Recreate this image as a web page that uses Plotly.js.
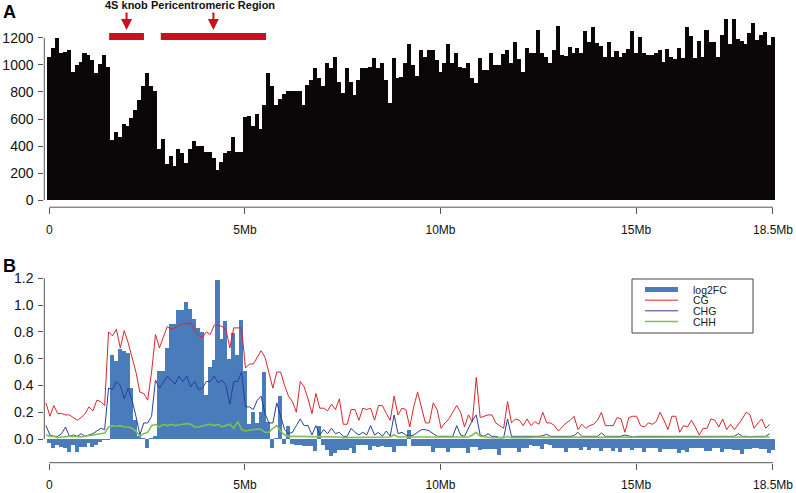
<!DOCTYPE html>
<html>
<head>
<meta charset="utf-8">
<script src="https://cdn.plot.ly/plotly-3.0.1.min.js"></script>
<style>
  html, body { margin: 0; padding: 0; background: #ffffff; }
  #chart { width: 796px; height: 493px; }
</style>
</head>
<body>
<div id="chart"></div>
<script>
// ---------- DATA (100 kb bins along the chromosome, in Mb) ----------
const BIN_MB = 0.1;

// Panel A: per-bin counts
const readDepth = [
  1057,1123,1198,1086,1098,1111,950,1000,1020,1086,1074,1037,938,1005,1074,988,
  444,501,464,563,548,605,667,741,844,938,844,810,
  375,449,267,326,254,378,351,272,378,440,402,402,353,353,309,222,284,346,363,469,358,358,
  615,625,545,640,525,705,
  938,844,704,748,785,807,807,807,807,704,852,889,980,907,844,1012,980,1062,877,796,
  980,877,778,889,980,980,988,1049,975,1017,889,721,1049,901,914,1012,1156,1000,918,1111,
  1062,1111,1111,1037,951,1012,1156,1012,1086,988,975,1017,901,869,1049,963,963,1091,1000,1000,
  1079,1111,1012,1168,1042,951,1123,
  1086,1086,1259,1086,1062,1017,1111,1289,1074,1067,1136,1086,1123,1086,1252,1173,1279,1160,1141,1057,
  1168,1057,1106,1057,1086,1116,1254,1086,1210,1086,1074,1074,1086,1111,1025,1116,1062,1042,1123,1049,
  1279,1215,1049,1180,1062,1259,1173,1173,1057,1222,1340,1156,1340,1190,1180,1156,1240,1314,1185,1222,
  1247,1148,1205
];

// Panel B: log2 fold change per bin
const log2FC = [
  -0.03,-0.07,-0.045,-0.06,-0.07,-0.095,-0.045,-0.095,-0.06,-0.06,-0.03,-0.06,-0.045,-0.02,-0.01,-0.01,
  0.63,0.58,0.67,0.66,0.64,0.38,0.14,0.02,0.01,-0.07,0.01,0.02,
  0.51,0.51,0.68,0.86,0.86,0.96,0.96,1.02,0.97,0.90,
  0.83,0.80,0.33,0.54,0.59,1.19,0.75,0.88,0.60,0.79,
  0.63,0.89,0.51,0.11,0.20,0.12,0.20,0.50,0.13,-0.07,
  0.01,0.32,
  -0.04,0.10,-0.04,-0.045,-0.045,-0.05,-0.05,-0.05,-0.09,0.10,
  -0.045,-0.08,-0.13,-0.105,-0.08,-0.08,-0.08,-0.07,-0.107,-0.045,
  -0.045,-0.045,-0.08,-0.05,-0.06,-0.05,-0.06,-0.06,-0.095,-0.05,
  -0.05,-0.05,0.07,-0.05,-0.05,-0.05,-0.05,-0.05,-0.10,-0.07,
  -0.07,-0.07,-0.10,-0.07,-0.07,-0.07,-0.07,-0.107,-0.057,-0.057,
  -0.082,-0.075,-0.075,-0.075,-0.075,-0.12,-0.07,-0.07,-0.07,-0.07,
  -0.095,-0.07,-0.07,-0.045,-0.05,-0.05,-0.075,-0.04,-0.045,-0.07,
  -0.07,-0.07,-0.095,-0.065,-0.065,-0.065,-0.082,-0.057,-0.082,-0.065,
  -0.065,-0.09,-0.07,-0.07,-0.09,-0.07,-0.095,-0.07,-0.07,-0.082,
  -0.065,-0.065,-0.10,-0.07,-0.07,-0.07,-0.10,-0.075,-0.075,-0.075,
  -0.075,-0.107,-0.082,-0.095,-0.07,-0.07,-0.07,-0.07,-0.09,-0.09,
  -0.07,-0.07,-0.10,-0.075,-0.075,-0.082,-0.082,-0.115,-0.075,-0.075,
  -0.065,-0.065,-0.075,-0.075,-0.107,-0.082
];

// Panel B: methylation levels per bin
const mCG = [
  0.27,0.17,0.25,0.19,0.19,0.18,0.18,0.16,0.14,0.16,
  0.19,0.24,0.21,0.29,0.28,0.25,0.80,0.77,0.82,0.68,
  0.81,0.72,0.60,0.50,0.35,0.34,0.29,0.50,0.78,0.68,
  0.76,0.84,0.82,0.83,0.85,0.86,0.86,0.87,0.81,0.77,
  0.76,0.80,0.78,0.85,0.85,0.84,0.82,0.68,0.83,0.83,
  0.83,0.53,0.56,0.56,0.61,0.66,0.61,0.50,0.38,0.50,
  0.50,0.40,0.32,0.28,0.20,0.43,0.39,0.30,0.19,0.34,
  0.23,0.23,0.21,0.26,0.22,0.30,0.11,0.11,0.22,0.22,
  0.14,0.23,0.22,0.23,0.14,0.25,0.25,0.19,0.14,0.32,
  0.18,0.23,0.22,0.09,0.24,0.35,0.24,0.12,0.12,0.27,
  0.22,0.08,0.12,0.15,0.20,0.25,0.20,0.09,0.18,0.13,
  0.46,0.16,0.17,0.18,0.18,0.12,0.10,0.08,0.28,0.12,
  0.15,
  0.14,0.10,0.15,0.10,0.13,0.11,0.20,0.12,0.12,0.10,
  0.06,0.09,0.12,0.14,0.17,0.07,0.11,0.08,0.10,0.11,
  0.14,0.20,0.10,0.10,0.10,0.16,0.15,0.05,0.16,0.17,
  0.17,0.10,0.09,0.12,0.11,0.13,0.20,0.14,0.07,0.17,
  0.17,0.05,0.10,0.09,0.14,0.09,0.03,0.08,0.08,0.15,
  0.14,0.09,0.15,0.07,0.11,0.07,0.11,0.15,0.20,0.18,
  0.08,0.12,0.15,0.08,0.11
];

const mCHG = [
  0.10,0.03,0.02,0.02,0.04,0.09,0.02,0.03,0.02,0.04,
  0.02,0.03,0.04,0.06,0.08,0.07,0.38,0.37,0.43,0.40,
  0.30,0.38,0.29,0.17,0.03,0.12,0.12,0.17,0.44,0.38,
  0.43,0.47,0.44,0.41,0.47,0.43,0.47,0.39,0.43,0.37,
  0.38,0.43,0.43,0.47,0.42,0.44,0.40,0.26,0.43,0.43,
  0.50,0.24,0.24,0.22,0.29,0.32,0.19,0.12,0.12,0.27,
  0.17,0.07,0.04,0.05,0.10,0.15,0.10,0.10,0.03,0.10,
  0.03,0.07,0.04,0.08,0.04,0.05,0.02,0.02,0.08,0.05,
  0.03,0.05,0.03,0.10,0.03,0.05,0.02,0.06,0.02,0.18,
  0.04,0.05,0.03,0.02,0.03,0.05,0.07,0.07,0.06,0.04,
  0.02,0.02,0.02,0.02,0.02,0.10,0.03,0.02,0.08,0.14,
  0.18,0.03,0.02,0.04,0.02,0.02,0.01,0.01,0.15,0.02,
  0.02,
  0.02,0.02,0.02,0.015,0.02,0.02,0.025,0.035,0.02,0.02,
  0.015,0.02,0.02,0.02,0.025,0.05,0.02,0.02,0.015,0.02,
  0.02,0.045,0.02,0.02,0.02,0.02,0.02,0.03,0.02,0.015,
  0.02,0.02,0.02,0.015,0.02,0.02,0.02,0.02,0.015,0.02,
  0.02,0.02,0.015,0.02,0.02,0.02,0.02,0.015,0.02,0.02,
  0.02,0.02,0.02,0.02,0.02,0.02,0.04,0.02,0.02,0.015,
  0.02,0.02,0.02,0.02,0.04
];

const mCHH = [
  0.03,0.02,0.02,0.01,0.015,0.02,0.02,0.02,0.015,0.015,
  0.02,0.025,0.03,0.04,0.045,0.045,
  0.09,0.10,0.095,0.10,0.09,0.09,0.08,0.06,0.02,0.04,
  0.05,0.10,0.11,0.09,0.11,0.10,0.11,0.10,0.105,0.11,
  0.115,0.11,0.09,0.09,0.10,0.105,0.11,0.10,0.11,0.09,
  0.10,0.11,0.08,0.13,0.07,0.06,0.065,0.07,0.075,0.07,
  0.05,0.05,0.08,0.10,
  0.06,0.03,0.02,0.02,0.02,0.02,0.015,0.015,0.015,0.015,
  0.015,0.015,0.015,0.015,0.015,0.015,0.01,0.01,0.015,0.015,
  0.015,0.015,0.015,0.015,0.015,0.015,0.015,0.015,0.015,0.03,
  0.015,0.015,0.015,0.01,0.015,0.015,0.015,0.015,0.015,0.015,
  0.01,0.01,0.01,0.01,0.01,0.015,0.01,0.01,0.015,0.03,
  0.05,0.02,0.015,0.015,0.01,0.01,0.01,0.01,0.02,0.01,
  0.01,
  0.012,0.012,0.01,0.012,0.012,0.015,0.012,0.012,0.01,0.012,
  0.012,0.012,0.015,0.012,0.012,0.015,0.012,0.01,0.012,0.012,
  0.012,0.015,0.012,0.012,0.01,0.012,0.012,0.012,0.015,0.012,
  0.012,0.01,0.012,0.012,0.012,0.012,0.015,0.012,0.01,0.012,
  0.012,0.012,0.012,0.01,0.012,0.012,0.012,0.012,0.012,0.015,
  0.012,0.012,0.01,0.012,0.012,0.012,0.015,0.012,0.012,0.012,
  0.01,0.012,0.012,0.012,0.015
];

// Axis ticks / labels
const xTickVals = [0, 5, 10, 15, 18.5];
const xTickText = ['0', '5Mb', '10Mb', '15Mb', '18.5Mb'];
const yTickValsA = [0, 200, 400, 600, 800, 1000, 1200];
const yTickValsB = [0, 0.2, 0.4, 0.6, 0.8, 1.0, 1.2];
const yTickTextB = ['0.0', '0.2', '0.4', '0.6', '0.8', '1.0', '1.2'];

// Annotated regions (Mb)
const regionNames = ['4S knob', 'Pericentromeric Region'];
const regionSpans = [[1.53, 2.42], [2.85, 5.54]];

// Legend entries (panel B)
const seriesNames = ['log2FC', 'CG', 'CHG', 'CHH'];

// ---------- STYLE ----------
const FONT = 'Liberation Sans, Arial, Helvetica, sans-serif';
const colBlack = '#0a0506';
const colFC = '#4a7bbb';
const colCG = '#d7262b';
const colCHG = '#283f9c';
const colCHH = '#80c04f';
const colRed = '#c8101e';
const colAxis = '#555555';
const seriesColors = [colFC, colCG, colCHG, colCHH];
const seriesWidths = [5, 1, 1, 1.6];

const W = 796, H = 493;
const px = v => v / W;            // x pixel -> paper
const py = v => 1 - v / H;        // y pixel -> paper

const xDomain = [px(44.3), px(780.8)];
const xRange = [-0.1278, 18.7];
const yDomA = [py(207.2), py(11.9)];
const yDomB = [py(462.7), py(272.6)];
const LINE_SHIFT = -0.085;        // line series are drawn slightly left of bar centres

const barX = readDepth.map((_, i) => i * BIN_MB);
const fcX = log2FC.map((_, i) => i * BIN_MB);
const lineX = mCG.map((_, i) => i * BIN_MB + LINE_SHIFT);

const traces = [
  { type: 'bar', x: barX, y: readDepth, xaxis: 'x', yaxis: 'y', width: 0.104,
    marker: { color: colBlack, line: { width: 0 } }, hoverinfo: 'x+y', name: 'A' },
  { type: 'bar', x: fcX, y: log2FC, xaxis: 'x2', yaxis: 'y2', width: 0.104,
    marker: { color: colFC, line: { width: 0 } }, name: seriesNames[0] },
  { type: 'scatter', mode: 'lines', x: lineX, y: mCG, xaxis: 'x2', yaxis: 'y2',
    line: { color: colCG, width: seriesWidths[1] }, name: seriesNames[1] },
  { type: 'scatter', mode: 'lines', x: lineX, y: mCHG, xaxis: 'x2', yaxis: 'y2',
    line: { color: colCHG, width: seriesWidths[2] }, name: seriesNames[2] },
  { type: 'scatter', mode: 'lines', x: lineX, y: mCHH, xaxis: 'x2', yaxis: 'y2',
    line: { color: colCHH, width: seriesWidths[3] }, name: seriesNames[3] }
];

const xAxisBase = {
  domain: xDomain, range: xRange, tickvals: xTickVals, ticktext: xTickText,
  ticks: 'outside', ticklen: 6, tickwidth: 1, tickcolor: colAxis,
  showline: false, showgrid: false, zeroline: false, fixedrange: true,
  tickfont: { family: FONT, size: 12, color: '#111' }, ticklabelstandoff: 5
};
const yAxisBase = {
  ticks: 'outside', ticklen: 5, tickwidth: 1, tickcolor: colAxis,
  showline: false, showgrid: false, zeroline: false, fixedrange: true,
  tickfont: { family: FONT, size: 14, color: '#111' }, ticklabelstandoff: 2
};

const shapes = [];
const annotations = [];

// R-style axis lines spanning the first to last tick
[['x', yDomA[0], 'y', yTickValsA], ['x2', yDomB[0], 'y2', yTickValsB]].forEach(([xr, yb, yr, yt]) => {
  shapes.push({ type: 'line', xref: xr, yref: 'paper', x0: xTickVals[0], x1: xTickVals[xTickVals.length - 1],
    y0: yb, y1: yb, line: { color: colAxis, width: 1 } });
  shapes.push({ type: 'line', xref: 'paper', yref: yr, x0: xDomain[0], x1: xDomain[0],
    y0: yt[0], y1: yt[yt.length - 1], line: { color: colAxis, width: 1 } });
});

// Region bars with labelled arrows
regionSpans.forEach((span, i) => {
  shapes.push({ type: 'line', xref: 'x', yref: 'paper', x0: span[0], x1: span[1],
    y0: py(36.5), y1: py(36.5), line: { color: colRed, width: 7 } });
  annotations.push({ xref: 'x', yref: 'paper', x: (span[0] + span[1]) / 2, y: py(30),
    text: '<b>' + regionNames[i] + '</b>', showarrow: true, arrowhead: 2, arrowsize: 1.1,
    arrowwidth: 2, arrowcolor: colRed, ax: 0, ay: -25, standoff: 0,
    font: { family: FONT, size: 11, color: '#111' } });
});

// Panel letters
annotations.push({ xref: 'paper', yref: 'paper', x: px(9.7), y: py(12), xanchor: 'center', yanchor: 'middle',
  text: '<b>A</b>', showarrow: false, font: { family: FONT, size: 18, color: '#000' } });
annotations.push({ xref: 'paper', yref: 'paper', x: px(9.5), y: py(265.5), xanchor: 'center', yanchor: 'middle',
  text: '<b>B</b>', showarrow: false, font: { family: FONT, size: 18, color: '#000' } });

// Legend (panel B), R-style box
shapes.push({ type: 'rect', xref: 'paper', yref: 'paper', x0: px(632), x1: px(753),
  y0: py(333), y1: py(279), line: { color: '#444', width: 1 }, fillcolor: 'rgba(255,255,255,0)' });
const legendRows = [289.5, 300.2, 310.8, 321.5];
seriesNames.forEach((name, i) => {
  shapes.push({ type: 'line', xref: 'paper', yref: 'paper', x0: px(645), x1: px(678),
    y0: py(legendRows[i]), y1: py(legendRows[i]),
    line: { color: seriesColors[i], width: seriesWidths[i] } });
  annotations.push({ xref: 'paper', yref: 'paper', x: px(691), y: py(legendRows[i]),
    xanchor: 'left', yanchor: 'middle', text: name, showarrow: false,
    font: { family: FONT, size: 10.5, color: '#222' } });
});

const layout = {
  width: W, height: H,
  margin: { l: 0, r: 0, t: 0, b: 0 },
  paper_bgcolor: '#ffffff', plot_bgcolor: 'rgba(0,0,0,0)',
  showlegend: false, bargap: 0, barmode: 'overlay',
  font: { family: FONT, color: '#111' },
  xaxis: Object.assign({}, xAxisBase, { anchor: 'y' }),
  xaxis2: Object.assign({}, xAxisBase, { anchor: 'y2' }),
  yaxis: Object.assign({}, yAxisBase, { domain: yDomA, range: [-53, 1393], tickvals: yTickValsA, anchor: 'x' }),
  yaxis2: Object.assign({}, yAxisBase, { domain: yDomB, range: [-0.177, 1.243], tickvals: yTickValsB,
    ticktext: yTickTextB, anchor: 'x2' }),
  shapes: shapes,
  annotations: annotations
};

Plotly.newPlot('chart', traces, layout, { displayModeBar: false, staticPlot: true });
</script>
</body>
</html>
